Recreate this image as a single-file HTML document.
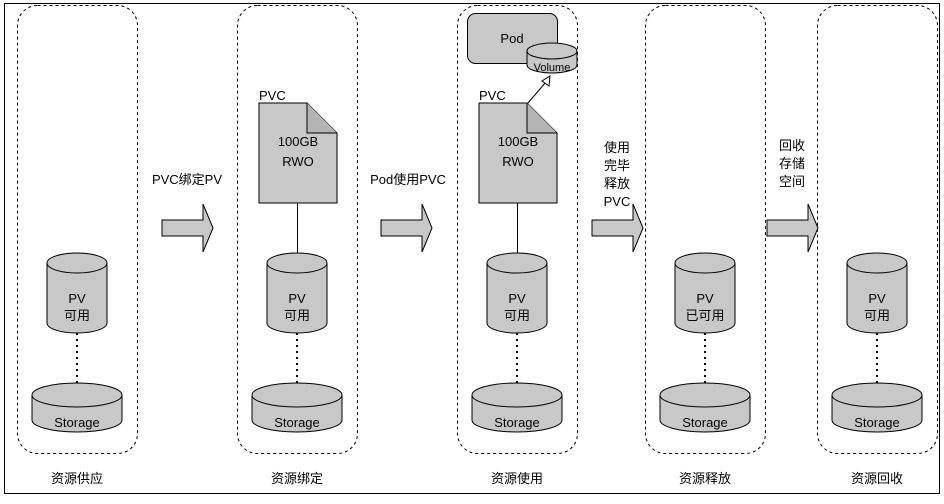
<!DOCTYPE html>
<html><head><meta charset="utf-8"><style>
body{margin:0;background:#fff}
svg text{font-family:"Liberation Sans","Noto Sans CJK SC",sans-serif;font-size:13px;fill:#000}
</style></head><body>
<svg width="944" height="499" xmlns="http://www.w3.org/2000/svg">
<rect x="0" y="0" width="944" height="499" fill="#fff"/>
<rect x="4.5" y="3.5" width="935" height="490" fill="none" stroke="#000" stroke-width="1"/>
<g fill="none" stroke="#000" stroke-dasharray="3,3">
<rect x="17.5" y="5.5" width="120" height="448" rx="20"/>
<rect x="237.5" y="5.5" width="120" height="448" rx="20"/>
<rect x="457.5" y="5.5" width="120" height="448" rx="20"/>
<rect x="645.5" y="5.5" width="120" height="448" rx="20"/>
<rect x="817.5" y="5.5" width="120" height="448" rx="20"/>
</g>
<defs>
<g id="pv">
<path d="M-30,10 v60 a30,10 0 0 0 60,0 v-60" fill="#c8c8c8" stroke="#000"/>
<ellipse cx="0" cy="10" rx="30" ry="10" fill="#c8c8c8" stroke="#000"/>
<line x1="0" y1="80" x2="0" y2="130" stroke="#000" stroke-width="2" stroke-dasharray="2,4"/>
<path d="M-45,142 v25 a45,12 0 0 0 90,0 v-25" fill="#c8c8c8" stroke="#000"/>
<ellipse cx="0" cy="142" rx="45" ry="12" fill="#c8c8c8" stroke="#000"/>
<text x="0" y="174" text-anchor="middle">Storage</text>
</g>
<g id="doc">
<path d="M0,0 h48 l30,30 v70 h-78 z" fill="#c8c8c8" stroke="#000"/>
<path d="M48,0 v30 h30" fill="#b4b4b4" stroke="#000"/>
<text x="0" y="-3">PVC</text>
<text x="39" y="43" text-anchor="middle">100GB</text>
<text x="39" y="63" text-anchor="middle">RWO</text>
</g>
<g id="arr"><path d="M0,-8 h41 v-16 l10,24 l-10,24 v-16 h-41 z" fill="#c8c8c8" stroke="#000"/></g>
</defs>
<g transform="translate(77,253)"><use href="#pv"/><text x="0" y="50" text-anchor="middle">PV</text><text x="0" y="67" text-anchor="middle">可用</text></g>
<g transform="translate(297,253)"><use href="#pv"/><text x="0" y="50" text-anchor="middle">PV</text><text x="0" y="67" text-anchor="middle">可用</text></g>
<g transform="translate(517,253)"><use href="#pv"/><text x="0" y="50" text-anchor="middle">PV</text><text x="0" y="67" text-anchor="middle">可用</text></g>
<g transform="translate(705,253)"><use href="#pv"/><text x="0" y="50" text-anchor="middle">PV</text><text x="0" y="67" text-anchor="middle">已可用</text></g>
<g transform="translate(877,253)"><use href="#pv"/><text x="0" y="50" text-anchor="middle">PV</text><text x="0" y="67" text-anchor="middle">可用</text></g>
<line x1="297.5" y1="203" x2="297.5" y2="253" stroke="#000"/>
<line x1="517.5" y1="203" x2="517.5" y2="253" stroke="#000"/>
<g transform="translate(259,103)"><use href="#doc"/></g>
<g transform="translate(479,103)"><use href="#doc"/></g>
<rect x="467.5" y="13.5" width="90" height="50" rx="8" fill="#c8c8c8" stroke="#000"/>
<text x="512" y="43" text-anchor="middle">Pod</text>
<path d="M527,51 v14 a25,8 0 0 0 50,0 v-14" fill="#c8c8c8" stroke="#000"/>
<ellipse cx="552" cy="51" rx="25" ry="8" fill="#c8c8c8" stroke="#000"/>
<text x="552" y="71" text-anchor="middle" style="font-size:11px">Volume</text>
<line x1="528" y1="103" x2="546" y2="82" stroke="#000"/>
<path d="M550,76 l-1,10 l-7,-5 z" fill="#fff" stroke="#000"/>
<g transform="translate(162,228)"><use href="#arr"/></g>
<g transform="translate(381,228)"><use href="#arr"/></g>
<g transform="translate(592,228)"><use href="#arr"/></g>
<g transform="translate(767,228)"><use href="#arr"/></g>
<text x="187" y="184" text-anchor="middle">PVC绑定PV</text>
<text x="408" y="184" text-anchor="middle">Pod使用PVC</text>
<text x="617" y="152" text-anchor="middle">使用</text>
<text x="617" y="170" text-anchor="middle">完毕</text>
<text x="617" y="188" text-anchor="middle">释放</text>
<text x="617" y="206" text-anchor="middle">PVC</text>
<text x="792" y="150" text-anchor="middle">回收</text>
<text x="792" y="168" text-anchor="middle">存储</text>
<text x="792" y="186" text-anchor="middle">空间</text>
<text x="77" y="483" text-anchor="middle">资源供应</text>
<text x="297" y="483" text-anchor="middle">资源绑定</text>
<text x="517" y="483" text-anchor="middle">资源使用</text>
<text x="705" y="483" text-anchor="middle">资源释放</text>
<text x="877" y="483" text-anchor="middle">资源回收</text>
</svg>
</body></html>
